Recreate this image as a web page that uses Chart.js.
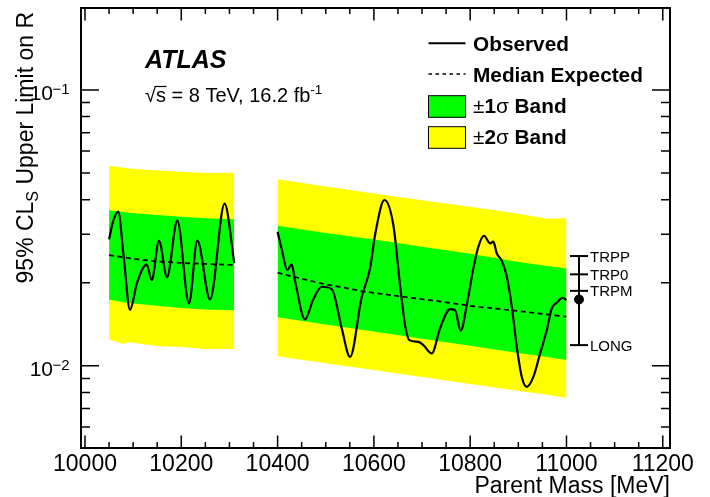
<!DOCTYPE html>
<html><head><meta charset="utf-8">
<script src="https://cdn.jsdelivr.net/npm/chart.js@4.4.1/dist/chart.umd.min.js"></script>
<style>html,body{margin:0;padding:0;background:#fff;}canvas{display:block}</style>
</head><body>
<canvas id="c" width="710" height="497"></canvas>
<script>
// ---- data ----
const obs1Mass  = [10050, 10058, 10069, 10080, 10093.5, 10108, 10128, 10138.6, 10153.7, 10170.3, 10191.7, 10216, 10233.3, 10259.7, 10290, 10310];
const obs1Limit = [0.02873, 0.0332, 0.03619, 0.0252, 0.01596, 0.0200, 0.02328, 0.02045, 0.02840, 0.02097, 0.03362, 0.01684, 0.02845, 0.01741, 0.03869, 0.02358];

const obs2Mass  = [10400, 10409, 10420, 10429.4, 10436, 10457, 10473.6, 10491.7, 10512.5, 10533.2, 10550.5, 10574.8, 10592, 10602.4, 10622, 10640.4, 10654.3, 10664.7, 10673.7, 10692.4, 10702.8, 10720.2, 10737.4, 10758.2, 10768.6, 10780.4, 10792.9, 10806.6, 10817, 10828.8, 10841.3, 10848.2, 10855.2, 10865.6, 10876, 10886.4, 10896.8, 10907.2, 10917.5, 10931.2, 10945.2, 10959.1, 10969.4, 10979.8, 10992.3, 11000];
const obs2Limit = [0.03062, 0.02628, 0.02224, 0.02332, 0.02045, 0.01473, 0.01731, 0.01935, 0.01898, 0.01367, 0.01078, 0.01779, 0.02256, 0.02978, 0.0399, 0.03238, 0.01963, 0.01405, 0.0124, 0.01222, 0.01189, 0.01109, 0.01367, 0.01606, 0.01592, 0.0134, 0.0166, 0.02256, 0.02701, 0.02961, 0.0278, 0.02818, 0.02556, 0.02404, 0.02103, 0.01637, 0.01172, 0.00912, 0.00839, 0.00912, 0.01109, 0.01348, 0.01615, 0.01693, 0.01765, 0.01731];

const exp1Mass  = [10050, 10090, 10120, 10150, 10200, 10250, 10310];
const exp1Limit = [0.0252, 0.0246, 0.0242, 0.0239, 0.0236, 0.0234, 0.0232];
const exp2Mass  = [10400, 10490, 10580, 10660, 10740, 10800, 10900, 11000];
const exp2Limit = [0.02175, 0.0199, 0.0186, 0.0178, 0.0171, 0.0165, 0.0158, 0.01507];

const band1Mass   = [10050, 10080, 10090, 10150, 10200, 10250, 10310];
const band1Plus2  = [0.0531, 0.0522, 0.0519, 0.0510, 0.0505, 0.0500, 0.0501];
const band1Plus1  = [0.0366, 0.0361, 0.0359, 0.0352, 0.0347, 0.0343, 0.0340];
const band1Minus1 = [0.0174, 0.0170, 0.0169, 0.0165, 0.0162, 0.0160, 0.0159];
const band1Minus2 = [0.0125, 0.0120, 0.0122, 0.0118, 0.0117, 0.0115, 0.0115];

const band2Mass   = [10400, 10500, 10600, 10700, 10800, 10900, 10960, 11000];
const band2Plus2  = [0.0474, 0.0447, 0.0421, 0.0398, 0.0377, 0.0356, 0.0341, 0.0343];
const band2Plus1  = [0.0322, 0.0303, 0.0287, 0.0270, 0.0255, 0.0238, 0.0230, 0.02255];
const band2Minus1 = [0.0150, 0.01413, 0.01332, 0.01255, 0.01183, 0.01114, 0.01076, 0.0105];
const band2Minus2 = [0.01084, 0.01023, 0.00966, 0.00911, 0.0086, 0.00812, 0.00786, 0.00766];

const polLabels  = ['TRPP', 'TRP0', 'TRPM', 'LONG'];
const polLimits  = [0.0250, 0.02146, 0.0187, 0.01189];
const polMass    = 11026;
const polCentral = 0.0174;

const xTickValues = [10000, 10200, 10400, 10600, 10800, 11000, 11200];
const xTickLabels = ['10000', '10200', '10400', '10600', '10800', '11000', '11200'];
const yTickValues = [0.01, 0.1];
const yTickExponents = ['\u22122', '\u22121'];

const X_MIN = 9991.7, X_MAX = 11215, Y_MIN = 0.00504, Y_MAX = 0.198;

// ---- helpers ----
const pts = (xs, ys) => xs.map((x, i) => ({x: x, y: ys[i]}));
const GREEN = '#00ff00', YELLOW = '#ffff00';
const FONT = '"Liberation Sans", Arial, Helvetica, sans-serif';

function bandDs(data, fill, color) {
  return {data: data, borderWidth: 0, borderColor: 'rgba(0,0,0,0)', backgroundColor: color,
          pointRadius: 0, tension: 0, fill: fill};
}

const datasets = [
  {data: pts(obs1Mass, obs1Limit), borderColor: '#000', borderWidth: 2.2, pointRadius: 0, cubicInterpolationMode: 'monotone', fill: false},
  {data: pts(obs2Mass, obs2Limit), borderColor: '#000', borderWidth: 2.2, pointRadius: 0, cubicInterpolationMode: 'monotone', fill: false},
  {data: pts(exp1Mass, exp1Limit), borderColor: '#000', borderWidth: 1.7, borderDash: [5, 3.5], pointRadius: 0, tension: 0, fill: false},
  {data: pts(exp2Mass, exp2Limit), borderColor: '#000', borderWidth: 1.7, borderDash: [5, 3.5], pointRadius: 0, tension: 0, fill: false},
  {data: [{x: polMass, y: Math.max(...polLimits)}, {x: polMass, y: Math.min(...polLimits)}], borderColor: '#000', borderWidth: 2, pointRadius: 0, fill: false},
  {type: 'scatter', data: [{x: polMass, y: polCentral}], backgroundColor: '#000', borderColor: '#000', pointRadius: 4.5, showLine: false},
  bandDs(pts(band1Mass, band1Plus1), '+1', GREEN),
  bandDs(pts(band1Mass, band1Minus1), false, GREEN),
  bandDs(pts(band2Mass, band2Plus1), '+1', GREEN),
  bandDs(pts(band2Mass, band2Minus1), false, GREEN),
  bandDs(pts(band1Mass, band1Plus2), '+1', YELLOW),
  bandDs(pts(band1Mass, band1Minus2), false, YELLOW),
  bandDs(pts(band2Mass, band2Plus2), '+1', YELLOW),
  bandDs(pts(band2Mass, band2Minus2), false, YELLOW)
];

function drawText(ctx, parts, x, y) {
  let cx = x;
  for (const p of parts) {
    ctx.font = p.font;
    ctx.fillText(p.t, cx, y + (p.dy || 0));
    cx += ctx.measureText(p.t).width;
  }
  return cx;
}
function partsWidth(ctx, parts) {
  let w = 0;
  for (const p of parts) { ctx.font = p.font; w += ctx.measureText(p.t).width; }
  return w;
}

const decor = {
  id: 'decor',
  afterDraw(chart) {
    const ctx = chart.ctx, a = chart.chartArea;
    const xs = chart.scales.x, ys = chart.scales.y;
    ctx.save();
    ctx.fillStyle = '#000';
    ctx.strokeStyle = '#000';

    // polarization caps + labels
    ctx.lineWidth = 2;
    const px = xs.getPixelForValue(polMass);
    ctx.font = '15px ' + FONT;
    ctx.textAlign = 'left';
    ctx.textBaseline = 'alphabetic';
    polLimits.forEach((v, i) => {
      const py = ys.getPixelForValue(v);
      ctx.beginPath(); ctx.moveTo(px - 9, py); ctx.lineTo(px + 9, py); ctx.stroke();
      ctx.fillText(polLabels[i], px + 11, py + 5.5);
    });

    // frame
    ctx.lineWidth = 2;
    ctx.strokeRect(a.left, a.top, a.right - a.left, a.bottom - a.top);

    // x ticks (bottom and top)
    ctx.lineWidth = 1.5;
    for (let m = 10000; m <= 11200; m += 50) {
      const x = xs.getPixelForValue(m);
      const major = (m % 200 === 0);
      const L = major ? 12.5 : 6;
      ctx.beginPath();
      ctx.moveTo(x, a.bottom); ctx.lineTo(x, a.bottom - L);
      ctx.moveTo(x, a.top); ctx.lineTo(x, a.top + L);
      ctx.stroke();
    }
    // y ticks (left and right)
    const yt = [];
    for (let d = -3; d <= -1; d++) {
      for (let k = 1; k <= 9; k++) yt.push({v: k * Math.pow(10, d), major: k === 1});
    }
    yt.forEach(t => {
      if (t.v < Y_MIN || t.v > Y_MAX) return;
      const y = ys.getPixelForValue(t.v);
      const L = t.major ? 18 : 9;
      ctx.beginPath();
      ctx.moveTo(a.left, y); ctx.lineTo(a.left + L, y);
      ctx.moveTo(a.right, y); ctx.lineTo(a.right - L, y);
      ctx.stroke();
    });

    // x tick labels
    ctx.font = '23px ' + FONT;
    ctx.textAlign = 'center';
    xTickValues.forEach((m, i) => {
      ctx.fillText(xTickLabels[i], xs.getPixelForValue(m), a.bottom + 23);
    });
    // y tick labels
    yTickValues.forEach((v, i) => {
      const y = ys.getPixelForValue(v);
      ctx.textAlign = 'right';
      ctx.font = '21px ' + FONT;
      ctx.fillText('10', 53, y + 10.5);
      ctx.textAlign = 'left';
      ctx.font = '15px ' + FONT;
      ctx.fillText(yTickExponents[i], 52.5, y + 4.5);
    });

    // axis titles
    ctx.textAlign = 'right';
    ctx.font = '23px ' + FONT;
    ctx.fillText('Parent Mass [MeV]', a.right, 493);

    ctx.save();
    ctx.translate(33, 12);
    ctx.rotate(-Math.PI / 2);
    ctx.textAlign = 'left';
    const yparts = [
      {t: '95% CL', font: '23px ' + FONT},
      {t: 'S', font: '16px ' + FONT, dy: 5},
      {t: ' Upper Limit on R', font: '23px ' + FONT}
    ];
    drawText(ctx, yparts, -partsWidth(ctx, yparts), 0);
    ctx.restore();

    // ATLAS label
    ctx.textAlign = 'left';
    ctx.font = 'italic bold 25px ' + FONT;
    ctx.fillText('ATLAS', 145, 67.5);
    // sqrt(s) line
    const e = drawText(ctx, [
      {t: '\u221As = 8 TeV, 16.2 fb', font: '20px ' + FONT}
    ], 145, 102);
    ctx.font = '13.5px ' + FONT;
    ctx.fillText('-1', e, 94);
    ctx.font = '20px ' + FONT;
    const wr = ctx.measureText('\u221A').width, ws = ctx.measureText('s').width;
    ctx.lineWidth = 1.2;
    ctx.beginPath(); ctx.moveTo(145 + wr - 1, 86.5); ctx.lineTo(145 + wr + ws + 0.5, 86.5); ctx.stroke();

    // legend
    const lx0 = 428.5, lx1 = 465.5, tx = 473;
    ctx.lineWidth = 2;
    ctx.beginPath(); ctx.moveTo(lx0, 43.3); ctx.lineTo(lx1, 43.3); ctx.stroke();
    ctx.lineWidth = 1.6;
    ctx.setLineDash([3.5, 3.5]);
    ctx.beginPath(); ctx.moveTo(lx0, 74); ctx.lineTo(lx1, 74); ctx.stroke();
    ctx.setLineDash([]);
    ctx.lineWidth = 1;
    ctx.fillStyle = GREEN; ctx.fillRect(lx0, 95.7, lx1 - lx0, 21.6);
    ctx.strokeRect(lx0, 95.7, lx1 - lx0, 21.6);
    ctx.fillStyle = YELLOW; ctx.fillRect(lx0, 126.7, lx1 - lx0, 21.6);
    ctx.strokeRect(lx0, 126.7, lx1 - lx0, 21.6);
    ctx.fillStyle = '#000';
    const B = 'bold 20.8px ' + FONT, R = '20.8px ' + FONT;
    drawText(ctx, [{t: 'Observed', font: B}], tx, 50.5);
    drawText(ctx, [{t: 'Median Expected', font: B}], tx, 81.7);
    drawText(ctx, [{t: '\u00B1', font: R}, {t: '1', font: B}, {t: '\u03C3', font: R}, {t: ' Band', font: B}], tx, 113.3);
    drawText(ctx, [{t: '\u00B1', font: R}, {t: '2', font: B}, {t: '\u03C3', font: R}, {t: ' Band', font: B}], tx, 143.8);

    ctx.restore();
  }
};

new Chart(document.getElementById('c'), {
  type: 'line',
  data: {datasets: datasets},
  options: {
    responsive: false,
    animation: false,
    devicePixelRatio: 1,
    layout: {padding: {left: 81, right: 40, top: 8, bottom: 49}},
    plugins: {legend: {display: false}, tooltip: {enabled: false}, filler: {propagate: false}},
    scales: {
      x: {type: 'linear', min: X_MIN, max: X_MAX, display: false},
      y: {type: 'logarithmic', min: Y_MIN, max: Y_MAX, display: false}
    }
  },
  plugins: [decor]
});
</script>
</body></html>
